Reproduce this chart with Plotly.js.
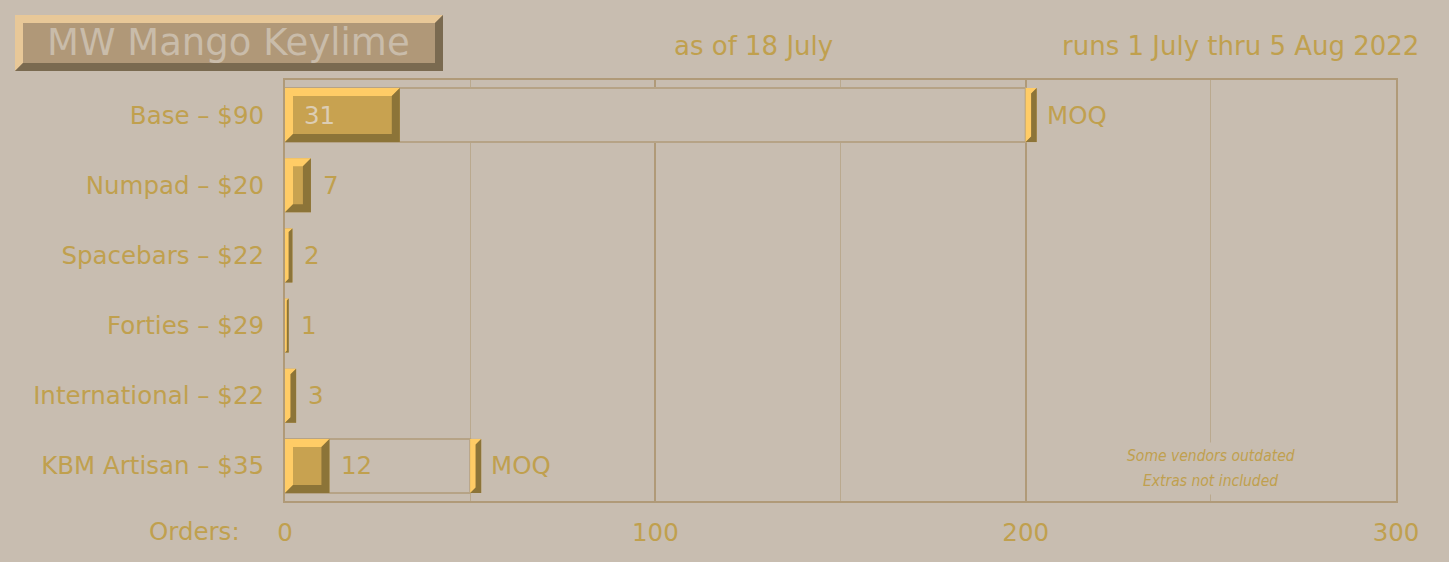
<!DOCTYPE html>
<html>
<head>
<meta charset="utf-8">
<script src="https://cdn.plot.ly/plotly-3.0.1.min.js"></script>
<style>
  html, body { margin: 0; padding: 0; background: #C8BDB0; }
  #chart { width: 1449px; height: 562px; }
</style>
</head>
<body>
<div id="chart"></div>
<script>
// ---- data ----
const categories = ['Base – $90', 'Numpad – $20', 'Spacebars – $22', 'Forties – $29', 'International – $22', 'KBM Artisan – $35'];
const orders = [31, 7, 2, 1, 3, 12];
const moq = [200, null, null, null, null, 50];
const xTickVals = [0, 100, 200, 300];
const xTickText = ['0', '100', '200', '300'];
const titleText = 'MW Mango Keylime';
const asOfText = 'as of 18 July';
const runsText = 'runs 1 July thru 5 Aug 2022';
const noteLines = ['Some vendors outdated', 'Extras not included'];
const axisLabel = 'Orders:';

// ---- style ----
const W = 1449, H = 562;
const M = { l: 285, r: 53, t: 80, b: 61 };
const plotW = W - M.l - M.r, plotH = H - M.t - M.b;
const xMax = 300;
const pxX = plotW / xMax;
const pxY = plotH / categories.length;
const BG = '#C8BDB0';
const GOLD = '#C0A04E';
const FACE = '#C8A250';
const LIGHT = '#FFCC66';
const DARK = '#8C7438';
const FRAME = '#B09A78';
const BOXLINE = '#B6A386';
const FONT = 'DejaVu Sans, Verdana, sans-serif';
const NOTEFONT = 'DejaVu Sans Condensed, sans-serif';
const barH = 0.77;
const bevelPx = 8;
const markerPx = 11;

const idx = categories.map((_, i) => i);
const moqIdx = idx.filter(i => moq[i] !== null);

const traces = [
  { // MOQ outline boxes
    type: 'bar', orientation: 'h',
    y: moqIdx, x: moqIdx.map(i => moq[i]), base: 0, width: barH,
    marker: { color: BG, line: { color: BOXLINE, width: 2 } },
    hoverinfo: 'skip', showlegend: false
  },
  { // order bars
    type: 'bar', orientation: 'h',
    y: idx, x: orders, width: barH,
    marker: { color: FACE, line: { width: 0 } },
    hoverinfo: 'x', showlegend: false
  },
  { // MOQ markers
    type: 'bar', orientation: 'h',
    y: moqIdx, x: moqIdx.map(() => markerPx / pxX), base: moqIdx.map(i => moq[i]), width: barH,
    marker: { color: FACE, line: { width: 0 } },
    hoverinfo: 'skip', showlegend: false
  }
];

function bevelShapes(x0, x1, yc, h) {
  const wpx = (x1 - x0) * pxX, hpx = h * pxY;
  const b = Math.min(bevelPx, wpx / 2, hpx / 2);
  const bx = b / pxX, by = b / pxY;
  const top = yc - h / 2, bot = yc + h / 2;
  const light = `M${x0},${top} L${x1},${top} L${x1 - bx},${top + by} L${x0 + bx},${top + by} L${x0 + bx},${bot - by} L${x0},${bot} Z`;
  const dark = `M${x1},${top} L${x1},${bot} L${x0},${bot} L${x0 + bx},${bot - by} L${x1 - bx},${bot - by} L${x1 - bx},${top + by} Z`;
  return [
    { type: 'path', xref: 'x', yref: 'y', path: light, fillcolor: LIGHT, line: { width: 0 }, layer: 'above' },
    { type: 'path', xref: 'x', yref: 'y', path: dark, fillcolor: DARK, line: { width: 0 }, layer: 'above' }
  ];
}

const shapes = [];
idx.forEach(i => shapes.push(...bevelShapes(0, orders[i], i, barH)));
moqIdx.forEach(i => shapes.push(...bevelShapes(moq[i], moq[i] + markerPx / pxX, i, barH)));

// title box (paper coords)
const px2x = px => (px - M.l) / plotW;
const py2y = py => (M.t + plotH - py) / plotH;
const tb = { x0: 15, y0: 15, x1: 443, y1: 71, b: 8 };
const P = (x, y) => `${px2x(x)},${py2y(y)}`;
shapes.push({ type: 'rect', xref: 'paper', yref: 'paper', x0: px2x(tb.x0), x1: px2x(tb.x1), y0: py2y(tb.y1), y1: py2y(tb.y0), fillcolor: '#B09878', line: { width: 0 }, layer: 'above' });
shapes.push({ type: 'path', xref: 'paper', yref: 'paper', layer: 'above', fillcolor: '#E8C898', line: { width: 0 },
  path: `M${P(tb.x0, tb.y0)} L${P(tb.x1, tb.y0)} L${P(tb.x1 - tb.b, tb.y0 + tb.b)} L${P(tb.x0 + tb.b, tb.y0 + tb.b)} L${P(tb.x0 + tb.b, tb.y1 - tb.b)} L${P(tb.x0, tb.y1)} Z` });
shapes.push({ type: 'path', xref: 'paper', yref: 'paper', layer: 'above', fillcolor: '#7A6A50', line: { width: 0 },
  path: `M${P(tb.x1, tb.y0)} L${P(tb.x1, tb.y1)} L${P(tb.x0, tb.y1)} L${P(tb.x0 + tb.b, tb.y1 - tb.b)} L${P(tb.x1 - tb.b, tb.y1 - tb.b)} L${P(tb.x1 - tb.b, tb.y0 + tb.b)} Z` });

const annotations = [];
idx.forEach(i => {
  const inside = orders[i] * pxX > 70;
  annotations.push({
    x: inside ? 0 : orders[i], y: i, xref: 'x', yref: 'y',
    text: String(orders[i]), showarrow: false, xanchor: 'left', yanchor: 'middle',
    xshift: inside ? 17 : 10,
    font: { family: FONT, size: 24.5, color: inside ? '#DCCDB4' : GOLD }
  });
});
moqIdx.forEach(i => {
  annotations.push({
    x: moq[i], y: i, xref: 'x', yref: 'y', text: 'MOQ', showarrow: false,
    xanchor: 'left', yanchor: 'middle', xshift: 19,
    font: { family: FONT, size: 24.5, color: GOLD }
  });
});
annotations.push(
  { xref: 'paper', yref: 'paper', x: px2x(228), y: py2y(43), text: titleText, showarrow: false, xanchor: 'center', yanchor: 'middle',
    font: { family: FONT, size: 37, color: '#C9BCAA' } },
  { xref: 'paper', yref: 'paper', x: px2x(753), y: py2y(46), text: asOfText, showarrow: false, xanchor: 'center', yanchor: 'middle',
    font: { family: FONT, size: 26, color: GOLD } },
  { xref: 'paper', yref: 'paper', x: px2x(1421), y: py2y(46), text: runsText, showarrow: false, xanchor: 'right', yanchor: 'middle',
    font: { family: FONT, size: 26, color: GOLD } },
  { xref: 'paper', yref: 'paper', x: px2x(242), y: py2y(531), text: axisLabel, showarrow: false, xanchor: 'right', yanchor: 'middle',
    font: { family: FONT, size: 24.5, color: GOLD } }
);
const noteY = [456, 481];
noteLines.forEach((t, k) => {
  annotations.push({
    xref: 'x', yref: 'paper', x: 250, y: py2y(noteY[k]), text: t, showarrow: false,
    xanchor: 'center', yanchor: 'middle', bgcolor: BG, borderpad: 4,
    font: { family: NOTEFONT, size: 15.5, color: GOLD, style: 'italic' }
  });
});

const layout = {
  width: W, height: H,
  margin: M,
  paper_bgcolor: BG, plot_bgcolor: BG,
  barmode: 'overlay',
  showlegend: false,
  xaxis: {
    range: [0, xMax], tickvals: xTickVals, ticktext: xTickText,
    showgrid: true, gridcolor: FRAME, gridwidth: 2,
    minor: { dtick: 50, showgrid: true, gridcolor: '#BAA98E', gridwidth: 1 },
    zeroline: false,
    showline: true, mirror: true, linecolor: FRAME, linewidth: 2,
    ticks: 'outside', ticklen: 9, tickcolor: 'rgba(0,0,0,0)',
    tickfont: { family: FONT, size: 24.5, color: GOLD }
  },
  yaxis: {
    range: [categories.length - 0.5, -0.5],
    tickvals: idx, ticktext: categories,
    showgrid: false, zeroline: false,
    showline: true, mirror: true, linecolor: FRAME, linewidth: 2,
    ticks: 'outside', ticklen: 14, tickcolor: 'rgba(0,0,0,0)',
    tickfont: { family: FONT, size: 24.5, color: GOLD }
  },
  shapes: shapes,
  annotations: annotations
};

Plotly.newPlot('chart', traces, layout, { staticPlot: true, displayModeBar: false });
</script>
</body>
</html>
